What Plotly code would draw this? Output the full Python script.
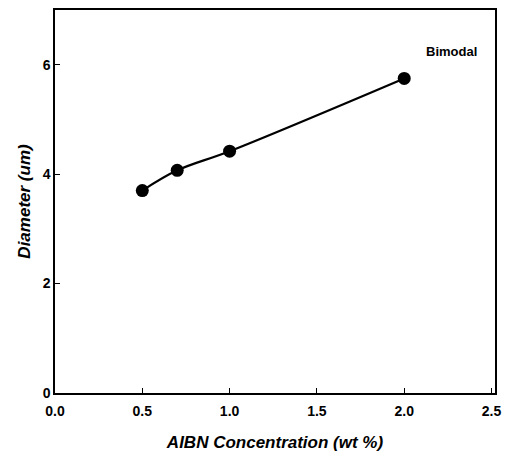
import plotly.graph_objects as go

aibn = [0.5, 0.7, 1.0, 2.0]
diameter = [3.7, 4.07, 4.42, 5.75]
x_ticks = [0.0, 0.5, 1.0, 1.5, 2.0, 2.5]
x_tick_labels = ["0.0", "0.5", "1.0", "1.5", "2.0", "2.5"]
y_ticks = [0, 2, 4, 6]

fig = go.Figure()
fig.add_trace(go.Scatter(
    x=aibn, y=diameter, mode="lines+markers",
    line=dict(color="black", width=2.2, shape="spline"),
    marker=dict(color="black", size=13),
    showlegend=False,
))
fig.add_annotation(x=2.27, y=6.24, text="<b>Bimodal</b>", showarrow=False,
                   font=dict(family="Liberation Sans, Arial", size=13, color="black"))

axis_common = dict(showline=True, linecolor="black", linewidth=1.5, mirror=True,
                   ticks="inside", ticklen=5, tickcolor="black", showgrid=False,
                   zeroline=False,
                   tickfont=dict(family="Liberation Sans, Arial", size=14, color="black"))
fig.update_xaxes(range=[0, 2.52], tickvals=x_ticks, ticktext=[f"<b>{t}</b>" for t in x_tick_labels],
                 ticklabelstandoff=4,
                 title=dict(text="<b><i>AIBN Concentration (wt %)</i></b>",
                            font=dict(family="Liberation Sans, Arial", size=17, color="black"),
                            standoff=19),
                 **axis_common)
fig.update_yaxes(range=[0, 7], tickvals=y_ticks, ticktext=[f"<b>{t}</b>" for t in y_ticks],
                 title=dict(text="<b><i>Diameter (um)</i></b>",
                            font=dict(family="Liberation Sans, Arial", size=17, color="black"),
                            standoff=8),
                 **axis_common)
fig.update_layout(width=509, height=457, margin=dict(l=55, r=12, t=8, b=64),
                  plot_bgcolor="white", paper_bgcolor="white")
fig.write_html("out.html")
